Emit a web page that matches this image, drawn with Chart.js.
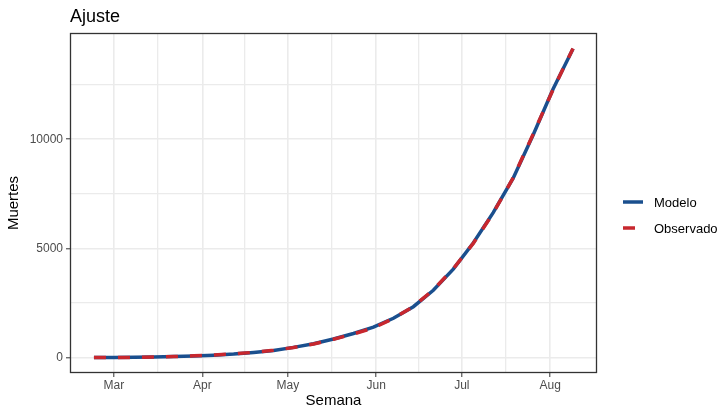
<!DOCTYPE html>
<html>
<head>
<meta charset="utf-8">
<title>Ajuste</title>
<script src="https://cdn.jsdelivr.net/npm/chart.js@4.4.1/dist/chart.umd.min.js"></script>
<style>
  html, body { margin: 0; padding: 0; background: #ffffff; }
  canvas { display: block; }
</style>
</head>
<body>
<canvas id="chart" width="720" height="410"></canvas>
<script>
// data (semanas de 2020)
const semanas = [
  "2020-02-23", "2020-03-01", "2020-03-08", "2020-03-15", "2020-03-22",
  "2020-03-29", "2020-04-05", "2020-04-12", "2020-04-19", "2020-04-26",
  "2020-05-03", "2020-05-10", "2020-05-17", "2020-05-24", "2020-05-31",
  "2020-06-07", "2020-06-14", "2020-06-21", "2020-06-28", "2020-07-05",
  "2020-07-12", "2020-07-19", "2020-07-26", "2020-08-02", "2020-08-09",
];
const modelo = [
  0, 5, 15, 30, 50, 75, 110, 160, 235, 320,
  465, 630, 850, 1100, 1390, 1800, 2330, 3080, 4050, 5250,
  6640, 8215, 10200, 12300, 14150,
];
const observado = [
  0, 0, 5, 20, 45, 80, 115, 165, 240, 330,
  460, 620, 840, 1080, 1360, 1790, 2340, 3100, 4070, 5230,
  6620, 8230, 10230, 12280, 14160,
];
// ticks del eje x (inicio de cada mes) y eje y
const meses = ["2020-03-01", "2020-04-01", "2020-05-01", "2020-06-01", "2020-07-01", "2020-08-01"];
const mesesLabels = ["Mar", "Apr", "May", "Jun", "Jul", "Aug"];
const yMajor = [0, 5000, 10000];
const yMinor = [2500, 7500, 12500];

const DAY = 86400000;
const origen = Date.parse("2020-03-01");
const toDay = (s) => (Date.parse(s) - origen) / DAY;

const xMajor = meses.map(toDay);
const xMinor = xMajor.slice(1).map((v, i) => (v + xMajor[i]) / 2);

// expansión de 5% como ggplot
const xs = semanas.map(toDay);
const xMin = Math.min(...xs), xMax = Math.max(...xs);
const allY = modelo.concat(observado);
const yMin = Math.min(...allY), yMax = Math.max(...allY);
const xPad = (xMax - xMin) * 0.05;
const yPad = (yMax - yMin) * 0.05;

const FONT = "'Liberation Sans', Arial, Helvetica, sans-serif";
const AZUL = "#1a4f8e";
const ROJO = "#c8272e";
const GRID = "#ebebeb";

// plugin: borde del panel, título y leyenda
const panelPlugin = {
  id: "panel",
  afterDraw: (chart) => {
    const { ctx, chartArea: { left, right, top, bottom } } = chart;
    ctx.save();
    // borde
    ctx.strokeStyle = "#333333";
    ctx.lineWidth = 1.3;
    ctx.strokeRect(left + 0.5, top + 0.5, right - left - 1, bottom - top - 1);

    // título
    ctx.fillStyle = "#000000";
    ctx.font = "18px " + FONT;
    ctx.textAlign = "left";
    ctx.textBaseline = "alphabetic";
    ctx.fillText("Ajuste", left, 22);

    // leyenda
    const items = [
      { label: "Modelo", color: AZUL, dash: [] },
      { label: "Observado", color: ROJO, dash: [12, 12] },
    ];
    ctx.font = "13px " + FONT;
    ctx.textBaseline = "middle";
    items.forEach((it, i) => {
      const y = 202 + i * 26;
      ctx.beginPath();
      ctx.strokeStyle = it.color;
      ctx.lineWidth = 3.5;
      ctx.setLineDash(it.dash);
      ctx.moveTo(623, y);
      ctx.lineTo(643, y);
      ctx.stroke();
      ctx.setLineDash([]);
      ctx.fillStyle = "#000000";
      ctx.fillText(it.label, 654, y + 1);
    });
    ctx.restore();
  },
};

const isMajor = (list, c) => list.includes(c.tick && c.tick.value);

const ctx = document.getElementById("chart");
new Chart(ctx, {
  type: "line",
  data: {
    datasets: [
      {
        label: "Modelo",
        data: semanas.map((s, i) => ({ x: toDay(s), y: modelo[i] })),
        borderColor: AZUL,
        borderWidth: 3.5,
        pointRadius: 0,
        tension: 0,
        order: 1,
      },
      {
        label: "Observado",
        data: semanas.map((s, i) => ({ x: toDay(s), y: observado[i] })),
        borderColor: ROJO,
        borderWidth: 3.5,
        borderDash: [12, 12],
        pointRadius: 0,
        tension: 0,
        order: 0,
      },
    ],
  },
  options: {
    responsive: false,
    animation: false,
    layout: {
      padding: { left: 0, right: 123, top: 33, bottom: 0 },
    },
    plugins: {
      legend: { display: false },
      tooltip: { enabled: false },
    },
    scales: {
      x: {
        type: "linear",
        min: xMin - xPad,
        max: xMax + xPad,
        afterBuildTicks: (scale) => {
          scale.ticks = xMajor.concat(xMinor).map((v) => ({ value: v }));
        },
        afterFit: (scale) => {
          scale.height = 37;
        },
        grid: {
          color: GRID,
          lineWidth: (c) => (isMajor(xMajor, c) ? 1.6 : 1.3),
          tickColor: (c) => (isMajor(xMajor, c) ? "#333333" : "rgba(0,0,0,0)"),
          tickLength: 4,
          tickWidth: 1,
        },
        border: { display: false },
        ticks: {
          autoSkip: false,
          maxRotation: 0,
          padding: 1,
          color: "#4d4d4d",
          font: { family: FONT, size: 12 },
          callback: (v) => {
            const i = xMajor.indexOf(v);
            return i >= 0 ? mesesLabels[i] : "";
          },
        },
        title: {
          display: true,
          text: "Semana",
          color: "#000000",
          font: { family: FONT, size: 15 },
          padding: { top: 0, bottom: 0 },
        },
      },
      y: {
        type: "linear",
        min: yMin - yPad,
        max: yMax + yPad,
        afterBuildTicks: (scale) => {
          scale.ticks = yMajor.concat(yMinor).map((v) => ({ value: v }));
        },
        afterFit: (scale) => {
          scale.width = 70;
        },
        grid: {
          color: GRID,
          lineWidth: (c) => (isMajor(yMajor, c) ? 1.6 : 1.3),
          tickColor: (c) => (isMajor(yMajor, c) ? "#333333" : "rgba(0,0,0,0)"),
          tickLength: 4,
          tickWidth: 1,
        },
        border: { display: false },
        ticks: {
          autoSkip: false,
          padding: 3,
          color: "#4d4d4d",
          font: { family: FONT, size: 12 },
          callback: (v) => (yMajor.includes(v) ? String(v) : ""),
        },
        title: {
          display: true,
          text: "Muertes",
          color: "#000000",
          font: { family: FONT, size: 15 },
          padding: { top: 5, bottom: 0 },
        },
      },
    },
  },
  plugins: [panelPlugin],
});
</script>
</body>
</html>
